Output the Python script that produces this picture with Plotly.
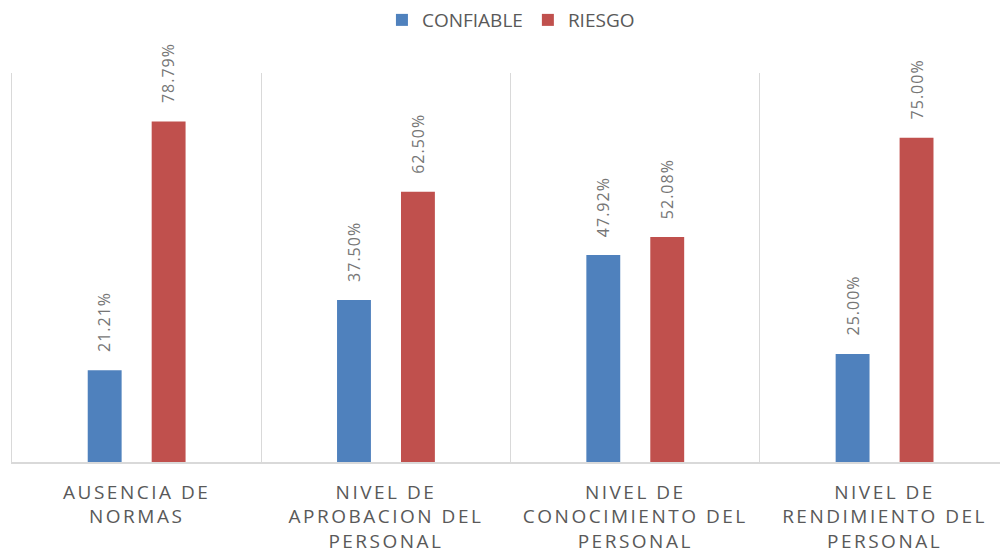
import plotly.graph_objects as go

categories = ["AUSENCIA DE<br>NORMAS",
              "NIVEL DE<br>APROBACION DEL<br>PERSONAL",
              "NIVEL DE<br>CONOCIMIENTO DEL<br>PERSONAL",
              "NIVEL DE<br>RENDIMIENTO DEL<br>PERSONAL"]
confiable = [0.2121, 0.3750, 0.4792, 0.2500]
riesgo = [0.7879, 0.6250, 0.5208, 0.7500]
series_names = ["CONFIABLE", "RIESGO"]
colors = ["#4F81BD", "#C0504D"]

FONT = "Open Sans"
TXT = "#595959"

fig = go.Figure()
for name, vals, col in zip(series_names, [confiable, riesgo], colors):
    fig.add_trace(go.Bar(x=categories, y=vals, name=name, marker_color=col,
                         marker_line_width=0))

annotations = []
for vals, shift in zip([confiable, riesgo], [-32, 32]):
    for c, v in zip(categories, vals):
        annotations.append(dict(x=c, y=v, xref="x", yref="y", text=f"{v*100:.2f}%",
                                showarrow=False, textangle=-90, xanchor="center",
                                yanchor="bottom", xshift=shift, yshift=19,
                                font=dict(family=FONT, size=16, color="#767676")))

fig.update_layout(
    width=1000, height=552,
    margin=dict(l=12, r=0, t=73, b=90, autoexpand=False),
    paper_bgcolor="white", plot_bgcolor="white",
    barmode="group", bargap=0.487, bargroupgap=0.47,
    font=dict(family=FONT, color=TXT),
    legend=dict(orientation="h", x=0.505, xanchor="center", y=1.185, yanchor="top",
                font=dict(family=FONT, size=19, color=TXT), itemwidth=30,
                traceorder="normal"),
    annotations=annotations,
    showlegend=True,
)
fig.update_xaxes(range=[-0.5, 3.463], tickson="boundaries", showgrid=True,
                 gridcolor="#D9D9D9", gridwidth=1, showline=True, linecolor="#D9D9D9",
                 linewidth=1.5, ticks="", ticklabelstandoff=12, automargin=False,
                 tickfont=dict(family=FONT, size=19, color=TXT))
fig.update_yaxes(range=[0, 0.9], showgrid=False, showticklabels=False, zeroline=False,
                 showline=True, linecolor="#D9D9D9", linewidth=1, ticks="",
                 automargin=False)

post = ("document.body.style.margin='0';"
        "var s=document.createElement('style');"
        "s.textContent='body{margin:0} .xtick text{letter-spacing:2.5px} .annotation-text{letter-spacing:1px}';"
        "document.head.appendChild(s);")
fig.write_html("out.html", post_script=post, config={"displayModeBar": False})
